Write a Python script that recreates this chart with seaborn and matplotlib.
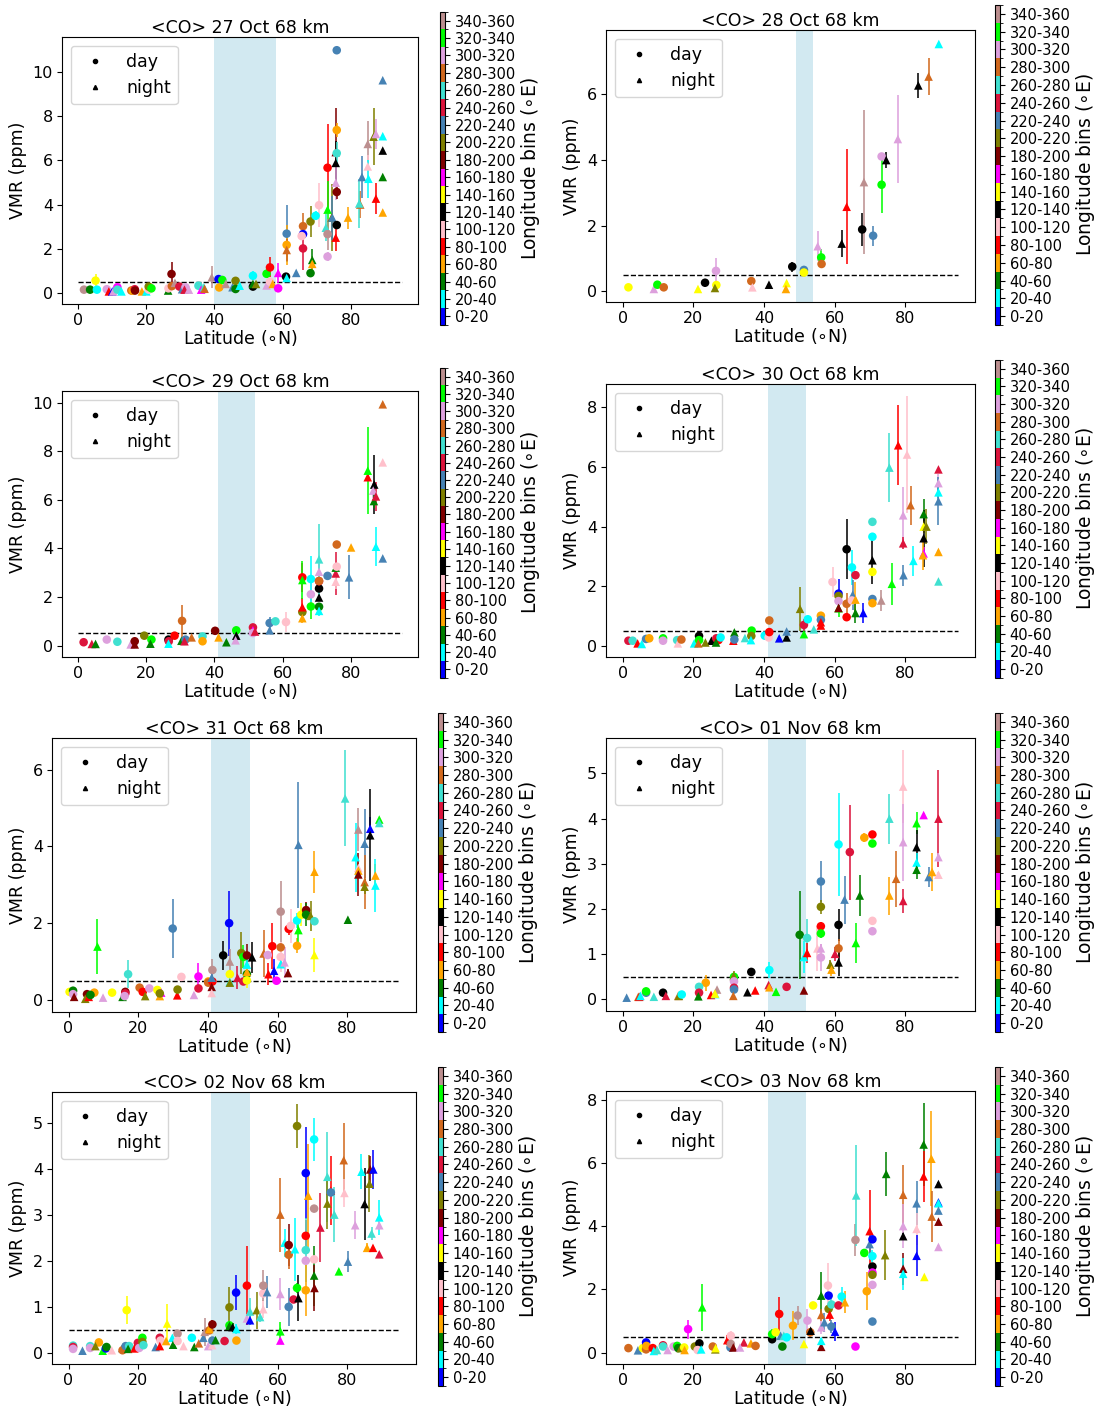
import numpy as np
import pandas as pd
import matplotlib
matplotlib.use("Agg")
import matplotlib.pyplot as plt
import seaborn as sns
from matplotlib.colors import ListedColormap, BoundaryNorm
from matplotlib.cm import ScalarMappable
from matplotlib.lines import Line2D
from matplotlib.ticker import MaxNLocator

# ---------------- data ----------------
lon_labels = ['0-20', '20-40', '40-60', '60-80', '80-100', '100-120', '120-140',
              '140-160', '160-180', '180-200', '200-220', '220-240', '240-260',
              '260-280', '280-300', '300-320', '320-340', '340-360']
lon_colors = ['blue', 'cyan', 'green', 'orange', 'red', 'pink', 'black', 'yellow',
              'magenta', 'maroon', 'olive', 'steelblue', 'crimson', 'turquoise',
              'chocolate', 'plum', 'lime', 'rosybrown']

titles = ['<CO> 27 Oct 68 km', '<CO> 28 Oct 68 km', '<CO> 29 Oct 68 km',
          '<CO> 30 Oct 68 km', '<CO> 31 Oct 68 km', '<CO> 01 Nov 68 km',
          '<CO> 02 Nov 68 km', '<CO> 03 Nov 68 km']
bands = [(40, 58), (49, 54), (41, 52), (41, 52), (41, 52), (41, 52), (41, 52), (41, 52)]
threshold = 0.5
line_lat = [0, 95]

# rows: (latitude, VMR, error, longitude-bin index, night flag)
obs_27oct = [
    (1.7, 0.14, 0.03, 17, 0), (3.5, 0.14, 0.03, 2, 0), (5.1, 0.55, 0.3, 7, 0), (5.5, 0.14, 0.03, 1, 0),
    (8.4, 0.16, 0.03, 15, 0), (9.0, 0.06, 0.02, 4, 1), (10.0, 0.06, 0.02, 0, 1), (10.3, 0.06, 0.02, 15, 1),
    (11.5, 0.25, 0.05, 8, 0), (11.5, 0.14, 0.03, 13, 0), (12.7, 0.06, 0.02, 1, 1), (15.6, 0.1, 0.03, 14, 0),
    (16.0, 0.1, 0.03, 3, 0), (16.6, 0.16, 0.03, 12, 0), (16.7, 0.1, 0.03, 9, 0), (18.7, 0.06, 0.02, 3, 1),
    (20.0, 0.06, 0.02, 1, 1), (20.7, 0.14, 0.03, 5, 0), (20.7, 0.28, 0.05, 10, 0), (21.5, 0.2, 0.05, 16, 0),
    (26.4, 0.1, 0.03, 2, 1), (26.5, 0.2, 0.05, 5, 0), (27.4, 0.85, 0.55, 9, 0), (27.5, 0.3, 0.05, 14, 0),
    (28.4, 0.45, 0.15, 17, 1), (29.7, 0.28, 0.05, 12, 0), (30.5, 0.16, 0.03, 11, 1), (31.5, 0.25, 0.05, 15, 0),
    (31.2, 0.14, 0.03, 12, 1), (32.5, 0.14, 0.03, 15, 1), (35.3, 0.32, 0.05, 13, 0), (36.1, 0.14, 0.03, 8, 1),
    (36.9, 0.25, 0.05, 13, 1), (37.1, 0.18, 0.03, 14, 1), (39.2, 0.7, 0.5, 17, 1), (41.2, 0.62, 0.05, 0, 0),
    (41.4, 0.24, 0.05, 3, 0), (42.3, 0.58, 0.05, 16, 0), (43.3, 0.4, 0.05, 17, 1), (45.3, 0.25, 0.05, 11, 1),
    (46.2, 0.54, 0.05, 10, 0), (46.2, 0.17, 0.03, 2, 0), (47.4, 0.32, 0.1, 1, 1), (51.3, 0.77, 0.2, 1, 0),
    (51.3, 0.28, 0.05, 6, 0), (51.3, 0.4, 0.05, 2, 1), (52.2, 0.4, 0.05, 10, 1), (55.3, 0.86, 0.2, 16, 0),
    (55.3, 0.33, 0.05, 15, 1), (56.3, 1.15, 0.45, 4, 0), (56.3, 0.5, 0.05, 5, 0), (57.1, 0.4, 0.05, 3, 1),
    (58.7, 0.9, 0.45, 8, 1), (58.7, 0.2, 0.03, 8, 0), (61.0, 0.73, 0.05, 6, 0), (61.2, 0.67, 0.05, 1, 1),
    (61.2, 2.68, 1.3, 11, 0), (61.2, 2.17, 0.9, 3, 0), (61.2, 1.94, 0.5, 14, 1), (64.0, 0.9, 0.1, 11, 1),
    (66.0, 3.02, 0.6, 14, 0), (66.0, 2.66, 0.1, 0, 0), (65.6, 2.57, 0.2, 5, 0), (66.0, 2.01, 1.0, 12, 0),
    (68.2, 3.23, 0.7, 10, 0), (68.7, 1.49, 0.5, 2, 1), (68.7, 1.31, 0.3, 3, 1), (68.2, 0.89, 0.05, 2, 0),
    (69.7, 3.49, 0.2, 1, 0), (70.7, 3.97, 1.0, 5, 0), (73.2, 5.67, 2.0, 4, 0), (73.2, 3.77, 1.3, 16, 1),
    (72.7, 2.95, 0.6, 13, 1), (73.2, 2.66, 0.7, 17, 0), (73.2, 1.64, 0.2, 15, 0), (74.4, 3.41, 1.5, 10, 1),
    (74.6, 3.41, 1.0, 11, 1), (75.6, 6.38, 2.0, 9, 1), (75.6, 5.89, 1.0, 6, 1), (75.6, 4.99, 0.8, 15, 1),
    (75.9, 7.38, 0.3, 3, 0), (75.9, 6.33, 0.5, 13, 0), (75.9, 4.57, 0.3, 9, 0), (75.9, 3.07, 0.1, 6, 0),
    (75.6, 2.5, 0.6, 4, 1), (75.9, 11.0, 0.05, 11, 0), (79.2, 3.41, 0.5, 3, 1), (82.8, 4.0, 0.6, 14, 1),
    (82.5, 4.05, 1.1, 13, 1), (83.3, 5.25, 0.95, 11, 1), (85.0, 6.75, 1.05, 17, 1), (85.0, 5.73, 0.5, 5, 1),
    (85.2, 5.17, 0.85, 1, 1), (87.4, 4.27, 0.7, 4, 1), (86.7, 7.08, 1.3, 10, 1), (87.4, 7.2, 0.7, 15, 1),
    (89.4, 9.64, 0.05, 11, 1), (89.4, 7.1, 0.05, 1, 1), (89.4, 6.45, 0.05, 6, 1), (89.4, 5.25, 0.05, 2, 1),
    (89.4, 3.64, 0.05, 3, 1),
]

obs_28oct = [
    (1.6, 0.12, 0.02, 7, 0), (8.8, 0.07, 0.02, 15, 1), (9.8, 0.2, 0.03, 16, 0), (11.6, 0.12, 0.02, 14, 0),
    (21.3, 0.07, 0.02, 7, 1), (23.3, 0.26, 0.03, 6, 0), (26.4, 0.62, 0.4, 15, 0), (26.5, 0.19, 0.03, 7, 0),
    (26.1, 0.1, 0.02, 10, 1), (36.4, 0.31, 0.03, 14, 0), (36.7, 0.12, 0.02, 5, 1), (41.4, 0.2, 0.03, 6, 1),
    (46.4, 0.25, 0.05, 7, 1), (46.2, 0.07, 0.02, 3, 1), (48.0, 0.75, 0.15, 6, 0), (51.3, 0.65, 0.12, 11, 0),
    (51.3, 0.57, 0.03, 7, 0), (55.2, 1.37, 0.45, 15, 1), (56.2, 1.03, 0.25, 16, 0), (56.3, 0.83, 0.03, 14, 0),
    (62.0, 1.45, 0.42, 6, 1), (63.4, 2.57, 1.75, 4, 1), (68.3, 3.32, 2.2, 17, 1), (67.8, 1.88, 0.5, 6, 0),
    (70.9, 1.69, 0.3, 11, 0), (73.3, 3.24, 0.85, 16, 0), (73.3, 4.1, 0.05, 15, 0), (74.6, 3.99, 0.25, 6, 1),
    (77.9, 4.63, 1.35, 15, 1), (83.7, 6.26, 0.38, 6, 1), (86.6, 6.53, 0.55, 14, 1), (89.5, 7.52, 0.05, 1, 1),
]

obs_29oct = [
    (1.6, 0.14, 0.03, 12, 0), (4.0, 0.07, 0.02, 12, 1), (5.1, 0.07, 0.02, 2, 1), (8.4, 0.25, 0.03, 15, 0),
    (11.5, 0.16, 0.03, 13, 0), (15.4, 0.05, 0.02, 15, 1), (16.6, 0.18, 0.03, 9, 0), (16.6, 0.05, 0.02, 9, 1),
    (19.4, 0.41, 0.03, 10, 0), (21.5, 0.25, 0.03, 16, 0), (21.2, 0.08, 0.02, 2, 1), (26.5, 0.25, 0.03, 6, 0),
    (26.6, 0.18, 0.03, 12, 0), (26.5, 0.08, 0.02, 1, 1), (28.3, 0.41, 0.03, 4, 0), (30.3, 0.2, 0.03, 2, 1),
    (30.5, 1.02, 0.65, 14, 0), (31.5, 0.25, 0.03, 11, 0), (31.2, 0.18, 0.03, 12, 1), (33.3, 0.34, 0.03, 14, 1),
    (36.5, 0.38, 0.03, 13, 0), (36.5, 0.18, 0.03, 3, 0), (40.2, 0.61, 0.03, 9, 0), (41.2, 0.34, 0.03, 3, 1),
    (43.5, 0.14, 0.03, 2, 1), (46.4, 0.63, 0.03, 16, 0), (46.4, 0.41, 0.05, 6, 1), (46.2, 0.22, 0.03, 15, 1),
    (51.3, 0.75, 0.05, 12, 0), (51.3, 0.63, 0.05, 8, 1), (51.3, 0.52, 0.03, 15, 0), (51.9, 0.58, 0.05, 12, 1),
    (56.2, 0.93, 0.25, 11, 0), (56.2, 0.63, 0.05, 11, 1), (57.9, 1.0, 0.1, 13, 0), (61.0, 0.97, 0.4, 5, 0),
    (65.8, 1.38, 0.3, 10, 0), (65.8, 1.13, 0.2, 3, 1), (65.8, 1.58, 0.4, 4, 1), (65.8, 2.81, 0.6, 4, 0),
    (65.8, 2.7, 0.8, 16, 1), (68.3, 1.61, 0.5, 16, 0), (68.3, 2.11, 0.55, 15, 0), (68.3, 2.74, 0.95, 1, 0),
    (70.7, 2.35, 0.1, 6, 0), (70.7, 1.98, 0.1, 6, 1), (70.7, 1.6, 0.1, 2, 0), (70.7, 1.43, 0.2, 1, 1),
    (70.7, 3.04, 0.3, 15, 1), (70.7, 2.65, 0.1, 12, 0), (70.7, 3.55, 1.45, 13, 1), (70.7, 2.66, 0.05, 14, 0),
    (73.2, 2.87, 0.05, 11, 0), (75.9, 4.16, 0.1, 14, 0), (75.6, 2.97, 0.9, 12, 1), (75.6, 3.21, 0.1, 2, 1),
    (75.6, 2.63, 0.3, 5, 1), (75.9, 3.25, 0.1, 5, 0), (79.5, 2.81, 0.9, 11, 1), (80.1, 4.04, 0.05, 3, 1),
    (85.0, 6.93, 0.1, 4, 1), (85.0, 7.2, 1.8, 16, 1), (86.9, 6.63, 1.2, 6, 1), (86.6, 6.38, 0.3, 15, 1),
    (86.8, 5.95, 0.3, 2, 1), (87.4, 6.14, 0.6, 12, 1), (87.4, 4.07, 0.8, 1, 1), (89.4, 9.93, 0.05, 14, 1),
    (89.4, 7.54, 0.05, 5, 1), (89.4, 3.59, 0.05, 11, 1),
]

obs_30oct = [
    (1.6, 0.17, 0.03, 12, 0), (2.8, 0.17, 0.03, 13, 0), (4.2, 0.08, 0.02, 4, 1), (5.4, 0.06, 0.02, 1, 1),
    (6.6, 0.23, 0.03, 11, 0), (7.5, 0.25, 0.03, 3, 0), (11.4, 0.25, 0.03, 16, 0), (11.4, 0.17, 0.03, 15, 0),
    (15.4, 0.19, 0.03, 13, 0), (15.6, 0.08, 0.02, 5, 1), (16.6, 0.21, 0.03, 14, 0), (20.2, 0.08, 0.02, 1, 1),
    (21.6, 0.33, 0.05, 6, 0), (21.6, 0.19, 0.03, 16, 0), (21.4, 0.08, 0.02, 14, 1), (25.1, 0.17, 0.03, 6, 1),
    (23.4, 0.11, 0.02, 10, 1), (26.5, 0.25, 0.03, 12, 0), (27.1, 0.19, 0.03, 4, 0), (26.4, 0.11, 0.02, 2, 1),
    (27.7, 0.28, 0.03, 1, 0), (31.3, 0.17, 0.03, 4, 1), (31.6, 0.45, 0.05, 2, 1), (31.6, 0.21, 0.03, 11, 0),
    (34.6, 0.26, 0.03, 13, 1), (36.5, 0.51, 0.03, 16, 0), (36.4, 0.33, 0.03, 10, 0), (36.3, 0.19, 0.03, 1, 1),
    (40.2, 0.34, 0.03, 1, 0), (41.3, 0.28, 0.03, 5, 0), (41.5, 0.85, 0.05, 14, 0), (41.5, 0.46, 0.05, 4, 0),
    (44.3, 0.25, 0.03, 0, 1), (46.4, 0.28, 0.03, 6, 1), (46.4, 0.48, 0.05, 11, 1), (50.2, 1.24, 0.73, 10, 1),
    (51.3, 0.39, 0.03, 16, 1), (51.3, 0.7, 0.2, 12, 0), (52.4, 0.89, 0.05, 1, 0), (54.1, 0.55, 0.05, 13, 1),
    (56.1, 1.01, 0.05, 3, 0), (56.1, 0.87, 0.05, 11, 0), (56.1, 0.79, 0.1, 4, 1), (56.1, 0.68, 0.1, 4, 1),
    (59.4, 2.14, 0.5, 5, 0), (61.1, 1.75, 0.5, 0, 0), (61.1, 1.67, 0.2, 10, 0), (61.1, 1.5, 0.1, 15, 0),
    (61.1, 1.26, 0.3, 16, 1), (61.1, 1.27, 0.1, 9, 1), (63.4, 3.24, 1.0, 6, 0), (63.4, 1.41, 0.35, 14, 0),
    (63.4, 0.96, 0.05, 4, 0), (64.9, 2.63, 0.6, 1, 0), (65.1, 1.71, 0.5, 11, 1), (64.9, 1.52, 0.1, 5, 0),
    (65.9, 2.37, 0.05, 12, 0), (65.9, 1.55, 0.6, 3, 1), (65.9, 1.1, 0.35, 2, 1), (68.1, 1.1, 0.35, 0, 1),
    (70.7, 4.16, 0.05, 13, 0), (70.7, 3.66, 0.1, 1, 0), (70.7, 2.87, 0.8, 6, 1), (70.7, 2.48, 0.1, 7, 0),
    (70.7, 1.57, 0.05, 11, 0), (70.7, 1.43, 0.05, 3, 0), (73.2, 1.52, 0.35, 17, 1), (76.2, 2.08, 0.7, 16, 1),
    (75.5, 5.98, 1.15, 13, 1), (78.0, 6.73, 1.35, 4, 1), (80.5, 6.42, 1.95, 5, 1), (79.4, 4.38, 0.95, 15, 1),
    (79.4, 3.44, 0.2, 12, 1), (81.5, 4.72, 0.65, 14, 1), (79.5, 2.37, 0.35, 11, 1), (82.3, 2.85, 0.5, 1, 1),
    (85.2, 4.42, 0.5, 2, 1), (85.2, 4.0, 0.2, 7, 1), (86.0, 4.0, 0.6, 10, 1), (85.2, 3.61, 0.95, 6, 1),
    (85.2, 3.1, 0.2, 8, 1), (85.0, 3.04, 0.5, 3, 1), (89.4, 5.92, 0.05, 12, 1), (89.4, 5.46, 0.3, 15, 1),
    (89.4, 5.15, 0.2, 1, 1), (89.4, 4.85, 0.8, 11, 1), (89.4, 3.15, 0.05, 3, 1), (89.4, 2.16, 0.05, 13, 1),
]

obs_31oct = [
    (0.3, 0.21, 0.03, 7, 0), (1.3, 0.24, 0.03, 2, 0), (1.3, 0.15, 0.03, 15, 0), (1.6, 0.08, 0.02, 9, 1),
    (5.3, 0.15, 0.03, 9, 0), (4.8, 0.03, 0.02, 10, 1), (5.8, 0.08, 0.02, 4, 1), (7.4, 0.19, 0.03, 3, 0),
    (6.3, 0.13, 0.03, 2, 0), (8.3, 1.39, 0.72, 16, 1), (9.9, 0.06, 0.02, 15, 1), (12.5, 0.19, 0.03, 7, 0),
    (15.5, 0.08, 0.02, 2, 1), (17.1, 0.67, 0.37, 13, 0), (16.3, 0.21, 0.03, 9, 0), (16.3, 0.17, 0.03, 12, 0),
    (16.1, 0.1, 0.02, 15, 0), (20.4, 0.32, 0.03, 14, 0), (21.3, 0.21, 0.03, 4, 0), (22.0, 0.1, 0.02, 10, 1),
    (23.2, 0.3, 0.03, 15, 0), (25.5, 0.26, 0.03, 7, 0), (26.6, 0.19, 0.05, 8, 1), (26.2, 0.1, 0.02, 3, 1),
    (26.2, 0.17, 0.03, 10, 0), (31.2, 0.12, 0.02, 4, 1), (31.3, 0.27, 0.03, 10, 0), (29.9, 1.86, 0.77, 11, 0),
    (32.4, 0.6, 0.05, 5, 0), (36.0, 0.13, 0.02, 15, 1), (37.3, 0.3, 0.03, 12, 0), (37.3, 0.61, 0.35, 8, 0),
    (40.1, 0.48, 0.03, 3, 0), (40.1, 0.45, 0.03, 14, 0), (41.3, 0.48, 0.1, 4, 0), (41.3, 0.78, 0.28, 17, 0),
    (41.1, 0.58, 0.1, 11, 1), (41.1, 0.34, 0.03, 9, 1), (41.1, 0.18, 0.03, 5, 1), (44.4, 1.16, 0.38, 6, 0),
    (46.1, 2.0, 0.85, 0, 0), (46.3, 1.0, 0.33, 17, 1), (46.3, 0.67, 0.1, 7, 0), (46.3, 0.47, 0.05, 1, 1),
    (46.3, 0.45, 0.03, 10, 1), (48.5, 0.58, 0.3, 12, 1), (49.6, 1.22, 0.55, 10, 0), (50.2, 1.12, 0.3, 16, 0),
    (51.2, 1.16, 0.3, 9, 0), (50.2, 0.48, 0.1, 12, 0), (51.2, 0.67, 0.1, 2, 0), (51.2, 0.73, 0.1, 3, 1),
    (51.2, 0.51, 0.2, 7, 0), (51.2, 0.92, 0.2, 1, 1), (52.7, 1.11, 0.4, 6, 1), (56.0, 1.21, 0.6, 14, 1),
    (57.4, 0.67, 0.28, 4, 1), (57.2, 1.17, 0.1, 15, 0), (58.5, 1.4, 0.6, 4, 0), (59.0, 0.76, 0.3, 0, 1),
    (59.7, 0.5, 0.05, 8, 0), (60.9, 2.3, 0.8, 17, 0), (60.9, 1.37, 0.1, 14, 0), (60.9, 1.12, 0.4, 5, 0),
    (60.9, 0.93, 0.1, 1, 1), (62.0, 0.98, 0.4, 15, 1), (63.0, 0.7, 0.1, 9, 1), (63.2, 1.85, 0.16, 4, 0),
    (63.8, 1.93, 0.45, 5, 0), (65.6, 1.41, 0.2, 3, 0), (65.6, 2.07, 0.2, 1, 0), (66.0, 1.82, 0.4, 16, 1),
    (66.0, 4.04, 1.65, 11, 1), (66.8, 2.22, 0.3, 7, 0), (68.2, 2.34, 0.2, 9, 0), (68.2, 2.22, 0.3, 2, 0),
    (69.5, 2.19, 0.4, 10, 1), (70.6, 2.05, 0.05, 13, 0), (70.6, 3.34, 0.55, 3, 1), (70.6, 1.17, 0.45, 7, 1),
    (79.4, 5.25, 1.25, 13, 1), (80.2, 2.09, 0.05, 2, 1), (82.4, 3.72, 0.9, 1, 1), (83.2, 4.44, 0.55, 17, 1),
    (83.2, 3.44, 0.2, 5, 1), (83.2, 3.37, 0.2, 3, 1), (83.2, 3.27, 0.55, 9, 1), (85.0, 4.07, 0.9, 11, 1),
    (85.0, 3.07, 0.7, 14, 1), (85.0, 2.95, 0.2, 10, 1), (86.6, 4.46, 0.3, 0, 1), (86.6, 4.29, 1.2, 6, 1),
    (88.1, 3.24, 0.3, 3, 1), (88.1, 2.98, 0.7, 1, 1), (89.2, 4.7, 0.05, 16, 1), (89.2, 4.61, 0.05, 13, 1),
]

obs_01nov = [
    (1.1, 0.04, 0.02, 11, 1), (4.4, 0.06, 0.02, 14, 1), (4.7, 0.06, 0.02, 4, 1), (5.0, 0.08, 0.02, 1, 1),
    (6.6, 0.15, 0.03, 11, 0), (6.6, 0.18, 0.03, 16, 0), (8.8, 0.06, 0.02, 13, 1), (11.4, 0.15, 0.03, 6, 0),
    (12.2, 0.08, 0.02, 12, 1), (15.7, 0.08, 0.02, 14, 1), (15.9, 0.08, 0.02, 10, 1), (16.7, 0.11, 0.02, 1, 0),
    (23.5, 0.37, 0.18, 3, 0), (21.6, 0.28, 0.03, 13, 0), (21.6, 0.15, 0.03, 12, 0), (21.4, 0.07, 0.02, 2, 1),
    (25.0, 0.1, 0.02, 4, 1), (26.2, 0.12, 0.02, 1, 1), (26.7, 0.22, 0.03, 17, 1), (26.1, 0.13, 0.03, 7, 1),
    (31.5, 0.5, 0.05, 16, 0), (31.4, 0.52, 0.1, 10, 1), (31.5, 0.4, 0.03, 15, 0), (31.5, 0.26, 0.03, 12, 0),
    (31.5, 0.22, 0.03, 11, 0), (31.3, 0.08, 0.02, 14, 1), (35.3, 0.16, 0.02, 6, 1), (36.4, 0.61, 0.03, 6, 0),
    (37.5, 0.2, 0.03, 4, 1), (41.5, 0.65, 0.18, 1, 0), (41.3, 0.32, 0.03, 12, 1), (41.5, 0.27, 0.03, 3, 1),
    (43.4, 0.17, 0.03, 16, 1), (46.4, 0.28, 0.03, 12, 0), (51.3, 0.2, 0.03, 9, 1), (50.1, 1.43, 0.98, 2, 0),
    (52.2, 1.36, 0.42, 13, 0), (51.3, 0.94, 0.35, 1, 1), (52.2, 1.03, 0.22, 4, 1), (55.1, 1.13, 0.5, 5, 1),
    (56.1, 1.13, 0.1, 15, 1), (56.1, 0.93, 0.3, 15, 0), (56.1, 2.61, 0.45, 11, 0), (56.1, 2.05, 0.15, 10, 0),
    (56.1, 1.62, 0.1, 4, 0), (56.1, 1.46, 0.1, 16, 0), (58.8, 0.77, 0.1, 10, 1), (59.1, 0.66, 0.15, 3, 1),
    (60.1, 1.01, 0.15, 12, 1), (61.1, 3.43, 1.13, 1, 0), (61.1, 1.65, 0.35, 6, 0), (61.1, 1.13, 0.2, 14, 0),
    (61.1, 0.82, 0.3, 6, 1), (62.8, 2.21, 0.53, 11, 1), (64.3, 3.26, 1.05, 12, 0), (66.0, 1.25, 0.45, 16, 1),
    (67.1, 2.3, 0.45, 2, 1), (68.4, 3.58, 0.1, 3, 0), (70.7, 3.65, 0.05, 4, 0), (70.7, 3.45, 0.05, 16, 0),
    (70.7, 1.74, 0.05, 5, 0), (70.7, 1.51, 0.05, 15, 0), (75.5, 4.0, 0.55, 13, 1), (75.5, 2.3, 0.42, 3, 1),
    (77.4, 2.67, 0.62, 14, 1), (79.4, 4.71, 0.8, 5, 1), (79.4, 3.48, 0.85, 15, 1), (79.4, 2.18, 0.27, 12, 1),
    (83.2, 3.9, 0.25, 16, 1), (83.2, 3.37, 0.38, 6, 1), (83.2, 3.03, 0.2, 1, 1), (83.2, 2.87, 0.2, 2, 1),
    (85.2, 4.08, 0.05, 8, 1), (86.6, 2.71, 0.23, 11, 1), (87.6, 2.82, 0.43, 3, 1), (89.4, 4.0, 1.08, 12, 1),
    (89.4, 3.15, 0.1, 15, 1), (89.4, 2.76, 0.05, 5, 1),
]

obs_02nov = [
    (1.3, 0.17, 0.03, 13, 0), (1.3, 0.14, 0.03, 12, 0), (1.3, 0.1, 0.02, 15, 0), (4.0, 0.06, 0.02, 11, 1),
    (6.2, 0.16, 0.03, 13, 0), (6.2, 0.12, 0.02, 15, 0), (8.7, 0.24, 0.03, 3, 0), (7.7, 0.16, 0.03, 10, 1),
    (9.8, 0.06, 0.02, 16, 1), (10.7, 0.11, 0.02, 0, 0), (10.9, 0.14, 0.03, 2, 0), (12.4, 0.07, 0.02, 5, 1),
    (15.5, 0.12, 0.02, 6, 1), (15.5, 0.07, 0.02, 14, 0), (16.4, 0.16, 0.03, 11, 0), (16.7, 0.94, 0.3, 7, 0),
    (17.4, 0.16, 0.03, 13, 0), (17.1, 0.1, 0.02, 2, 1), (19.9, 0.23, 0.03, 12, 0), (18.9, 0.11, 0.02, 4, 1),
    (20.3, 0.12, 0.02, 15, 0), (21.2, 0.34, 0.08, 16, 0), (21.2, 0.25, 0.03, 10, 0), (21.5, 0.18, 0.03, 13, 0),
    (25.0, 0.14, 0.02, 11, 1), (26.2, 0.34, 0.03, 12, 0), (26.4, 0.28, 0.03, 5, 0), (26.2, 0.16, 0.03, 4, 1),
    (28.3, 0.65, 0.42, 7, 1), (28.0, 0.27, 0.03, 3, 1), (29.8, 0.34, 0.03, 1, 1), (30.0, 0.19, 0.03, 2, 1),
    (31.3, 0.43, 0.03, 17, 0), (31.3, 0.27, 0.03, 5, 0), (33.0, 0.16, 0.02, 5, 1), (35.4, 0.34, 0.03, 1, 0),
    (36.1, 0.14, 0.02, 2, 1), (37.4, 0.22, 0.03, 14, 1), (38.7, 0.34, 0.03, 11, 1), (39.1, 0.47, 0.3, 17, 1),
    (40.4, 0.5, 0.03, 14, 0), (40.4, 0.53, 0.03, 3, 1), (40.1, 0.16, 0.02, 15, 1), (41.2, 0.18, 0.03, 5, 1),
    (41.3, 0.63, 0.1, 9, 0), (41.3, 0.28, 0.03, 11, 0), (42.2, 0.29, 0.03, 2, 1), (44.8, 0.27, 0.03, 12, 0),
    (46.2, 1.0, 0.45, 10, 0), (46.2, 0.61, 0.1, 16, 0), (46.2, 0.6, 0.03, 2, 1), (47.1, 0.57, 0.1, 6, 1),
    (48.2, 0.28, 0.03, 3, 0), (48.2, 0.53, 0.1, 1, 1), (48.1, 1.32, 0.38, 0, 0), (51.2, 1.47, 0.85, 4, 0),
    (51.2, 0.76, 0.1, 15, 1), (52.1, 0.72, 0.1, 0, 1), (52.1, 0.91, 0.3, 13, 1), (54.0, 0.94, 0.4, 10, 1),
    (55.0, 0.79, 0.1, 13, 1), (55.9, 0.96, 0.2, 5, 1), (55.9, 1.3, 0.1, 5, 0), (55.9, 1.47, 0.33, 17, 0),
    (57.0, 1.33, 0.35, 11, 1), (60.8, 3.01, 0.8, 14, 1), (60.8, 1.29, 0.35, 15, 1), (60.8, 0.48, 0.2, 16, 1),
    (60.8, 0.28, 0.05, 8, 1), (62.0, 2.4, 0.3, 1, 1), (63.2, 2.35, 0.45, 9, 0), (63.2, 2.14, 0.3, 14, 0),
    (63.2, 1.01, 0.42, 11, 0), (64.6, 1.17, 0.05, 12, 0), (65.6, 4.93, 0.47, 10, 0), (65.0, 2.26, 0.68, 1, 1),
    (65.6, 1.42, 0.1, 16, 0), (66.0, 1.2, 0.5, 6, 1), (68.1, 3.91, 1.0, 0, 0), (68.8, 3.42, 1.12, 3, 1),
    (68.1, 2.55, 0.35, 4, 0), (68.1, 2.24, 0.7, 13, 0), (68.1, 2.01, 0.1, 15, 0), (68.1, 1.37, 0.55, 3, 0),
    (70.5, 4.64, 0.47, 1, 0), (70.5, 3.14, 0.05, 17, 0), (70.5, 2.04, 0.05, 5, 0), (70.5, 1.69, 0.65, 2, 1),
    (70.6, 1.42, 0.5, 9, 1), (72.3, 2.73, 0.75, 12, 1), (74.3, 3.83, 0.97, 13, 1), (74.3, 3.25, 0.55, 10, 1),
    (75.3, 3.53, 0.75, 4, 1), (75.3, 3.49, 0.05, 11, 0), (76.3, 3.01, 0.6, 13, 1), (79.0, 4.19, 0.8, 14, 1),
    (79.2, 3.48, 0.3, 5, 1), (77.6, 1.78, 0.05, 16, 1), (80.2, 1.99, 0.23, 11, 1), (82.3, 2.78, 0.3, 15, 1),
    (84.1, 3.94, 0.38, 1, 1), (85.0, 3.24, 0.78, 6, 1), (85.7, 2.29, 0.1, 3, 1), (87.0, 2.6, 0.15, 13, 1),
    (86.4, 3.68, 0.62, 10, 1), (86.6, 3.99, 0.3, 9, 1), (87.5, 3.99, 0.42, 0, 1), (87.4, 2.29, 0.05, 4, 1),
    (89.2, 2.95, 0.38, 1, 1), (89.2, 2.78, 0.1, 15, 1), (89.2, 2.15, 0.05, 12, 1),
]

obs_03nov = [
    (1.6, 0.14, 0.03, 14, 0), (4.3, 0.07, 0.02, 11, 1), (5.7, 0.14, 0.03, 7, 0), (6.6, 0.32, 0.05, 0, 0),
    (6.6, 0.1, 0.02, 14, 0), (6.7, 0.21, 0.03, 3, 0), (8.5, 0.14, 0.03, 4, 0), (8.8, 0.05, 0.02, 1, 1),
    (9.7, 0.08, 0.02, 13, 1), (11.4, 0.23, 0.03, 12, 0), (11.4, 0.19, 0.03, 13, 0), (12.7, 0.08, 0.02, 15, 1),
    (14.4, 0.19, 0.03, 15, 0), (15.4, 0.21, 0.03, 16, 0), (15.7, 0.14, 0.03, 2, 0), (16.4, 0.14, 0.03, 10, 1),
    (17.4, 0.16, 0.03, 7, 0), (17.5, 0.08, 0.02, 3, 1), (18.5, 0.74, 0.3, 8, 0), (20.4, 0.19, 0.03, 10, 0),
    (21.7, 0.29, 0.03, 6, 0), (21.2, 0.08, 0.02, 5, 0), (22.2, 0.1, 0.02, 1, 1), (22.5, 1.43, 0.75, 16, 1),
    (25.5, 0.19, 0.03, 14, 0), (26.2, 0.1, 0.02, 10, 1), (26.3, 0.14, 0.03, 7, 1), (29.6, 0.39, 0.15, 4, 1),
    (30.6, 0.34, 0.03, 7, 1), (30.5, 0.16, 0.03, 11, 0), (30.6, 0.53, 0.15, 5, 0), (30.6, 0.27, 0.03, 17, 0),
    (31.3, 0.16, 0.03, 9, 1), (34.3, 0.32, 0.03, 12, 1), (33.2, 0.16, 0.03, 15, 1), (36.3, 0.29, 0.03, 3, 1),
    (37.6, 0.21, 0.03, 14, 0), (42.3, 0.42, 0.03, 6, 0), (42.3, 0.58, 0.15, 16, 0), (43.3, 0.64, 0.03, 7, 0),
    (44.3, 1.22, 0.55, 4, 0), (44.7, 0.53, 0.03, 11, 1), (45.6, 0.53, 0.03, 13, 1), (46.4, 0.48, 0.05, 1, 0),
    (45.2, 0.19, 0.03, 2, 0), (48.2, 0.85, 0.45, 3, 0), (49.5, 1.17, 0.3, 17, 0), (51.3, 0.27, 0.03, 7, 1),
    (52.3, 1.01, 0.38, 15, 0), (53.1, 0.64, 0.15, 14, 0), (53.2, 0.69, 0.1, 6, 1), (56.2, 0.18, 0.03, 9, 1),
    (56.2, 1.8, 0.75, 2, 1), (56.2, 0.37, 0.1, 1, 1), (56.2, 1.19, 0.2, 14, 1), (56.2, 0.8, 0.2, 15, 1),
    (53.9, 1.49, 0.05, 7, 0), (58.1, 2.12, 0.7, 5, 0), (58.3, 1.8, 0.1, 0, 0), (58.3, 1.38, 0.1, 10, 0),
    (58.6, 1.2, 0.2, 4, 1), (57.1, 0.96, 0.3, 11, 1), (59.1, 1.52, 0.2, 13, 0), (59.1, 0.82, 0.2, 11, 0),
    (60.1, 0.66, 0.3, 0, 1), (61.1, 1.49, 0.1, 12, 0), (62.0, 1.77, 0.3, 1, 0), (62.9, 1.59, 0.35, 3, 1),
    (65.9, 3.56, 0.5, 17, 0), (66.1, 4.97, 1.6, 13, 1), (65.9, 0.19, 0.05, 8, 0), (68.4, 3.15, 0.12, 16, 0),
    (69.1, 1.94, 0.6, 3, 0), (69.9, 3.84, 1.3, 4, 1), (69.9, 3.43, 0.5, 11, 1), (70.7, 3.58, 0.1, 0, 0),
    (70.7, 3.05, 0.2, 1, 0), (70.7, 2.72, 0.1, 6, 0), (70.7, 2.53, 0.05, 8, 0), (70.7, 2.46, 0.05, 10, 0),
    (70.7, 2.14, 0.05, 15, 0), (70.7, 0.98, 0.05, 11, 0), (74.6, 5.65, 0.7, 2, 1), (74.3, 3.08, 0.8, 10, 1),
    (79.4, 4.99, 0.95, 14, 1), (79.4, 4.0, 0.7, 15, 1), (79.4, 3.68, 0.1, 6, 1), (79.4, 2.65, 0.5, 9, 1),
    (79.4, 2.49, 0.5, 1, 1), (83.2, 4.72, 0.7, 11, 1), (83.2, 3.91, 0.5, 5, 1), (83.2, 3.06, 0.65, 0, 1),
    (85.2, 6.58, 1.3, 2, 1), (85.2, 5.57, 0.8, 4, 1), (85.4, 2.39, 0.05, 7, 1), (87.4, 6.13, 1.5, 3, 1),
    (87.5, 4.3, 0.8, 14, 1), (89.4, 5.33, 0.05, 6, 1), (89.4, 4.75, 0.05, 0, 1), (89.4, 4.72, 0.05, 1, 1),
    (89.4, 4.49, 0.05, 11, 1), (89.4, 4.14, 0.05, 9, 1), (89.4, 3.34, 0.05, 15, 1),
]

all_obs = [obs_27oct, obs_28oct, obs_29oct, obs_30oct, obs_31oct, obs_01nov, obs_02nov, obs_03nov]

# ---------------- layout (pixel boxes: left, top, right, bottom) ----------------
W, H = 1097, 1407
ax_boxes = [(62, 37, 418, 304), (606, 30, 975, 302),
            (62, 391, 418, 657), (606, 384, 975, 657),
            (52, 738, 416, 1012), (606, 738, 975, 1011),
            (52, 1092, 416, 1364), (606, 1091, 975, 1364)]
cb_boxes = [(440, 12, 445, 325), (995, 5, 1000, 325),
            (440, 368, 445, 678), (995, 360, 1000, 678),
            (438, 713, 443, 1032), (995, 713, 1000, 1032),
            (438, 1067, 443, 1386), (995, 1067, 1000, 1386)]


def frac(box):
    x0, y0, x1, y1 = box
    return [x0 / W, 1 - y1 / H, (x1 - x0) / W, (y1 - y0) / H]


plt.rcParams['font.family'] = ['DejaVu Sans']
plt.rcParams['mathtext.fontset'] = 'dejavusans'

fig = plt.figure(figsize=(W / 100, H / 100), dpi=100)
palette = dict(zip(lon_labels, lon_colors))
cmap = ListedColormap(lon_colors)
norm = BoundaryNorm(np.arange(len(lon_labels) + 1), len(lon_labels))

for title, rows, band, abox, cbox in zip(titles, all_obs, bands, ax_boxes, cb_boxes):
    df = pd.DataFrame(rows, columns=['lat', 'vmr', 'err', 'lon', 'night'])
    df['bin'] = [lon_labels[k] for k in df['lon']]
    df['time'] = np.where(df['night'] == 1, 'night', 'day')

    ax = fig.add_axes(frac(abox))
    ax.axvspan(band[0], band[1], color='lightblue', alpha=0.55, lw=0, zorder=0)
    ax.plot(line_lat, [threshold, threshold], ls='--', color='k', lw=1.0, zorder=1)
    ax.vlines(df['lat'], df['vmr'] - df['err'], df['vmr'] + df['err'],
              colors=[lon_colors[k] for k in df['lon']], lw=1.4, alpha=0.8, zorder=2)
    sns.scatterplot(data=df, x='lat', y='vmr', hue='bin', palette=palette,
                    style='time', markers={'day': 'o', 'night': '^'},
                    s=38, linewidth=0, legend=False, ax=ax, zorder=3)
    ax.set_title(title, fontsize=12.5, pad=3)
    ax.set_xlabel(r'Latitude ($\circ$N)', fontsize=12.5, labelpad=0)
    ax.set_ylabel('VMR (ppm)', fontsize=12.5)
    ax.set_xticks([0, 20, 40, 60, 80])
    ax.yaxis.set_major_locator(MaxNLocator(nbins=7, steps=[1, 2, 2.5, 5, 10]))
    ax.tick_params(labelsize=11.5, pad=3)

    handles = [Line2D([0], [0], marker='o', color='k', ls='none', markersize=3, label='day'),
               Line2D([0], [0], marker='^', color='k', ls='none', markersize=3, label='night')]
    ax.legend(handles=handles, loc='upper left', fontsize=12.5)

    cax = fig.add_axes(frac(cbox))
    cb = fig.colorbar(ScalarMappable(norm=norm, cmap=cmap), cax=cax,
                      ticks=np.arange(len(lon_labels)) + 0.5)
    cb.ax.set_yticklabels(lon_labels, fontsize=10.5)
    cb.set_label(r'Longitude bins ($\circ$E)', fontsize=13.5, labelpad=2)

fig.savefig('out.png', dpi=100)
